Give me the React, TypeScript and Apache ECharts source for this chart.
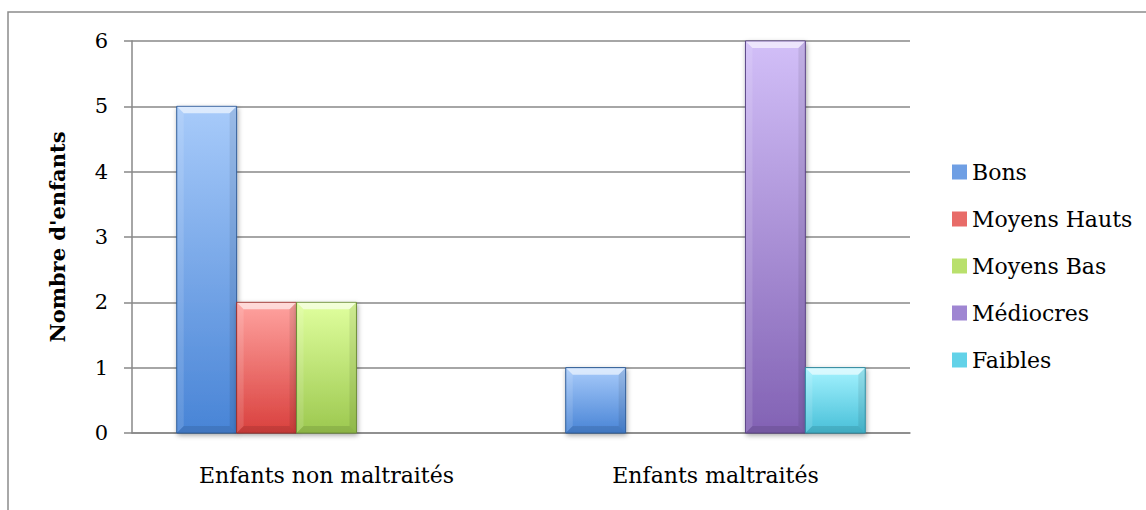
import React, { useEffect, useRef } from "react";
import * as echarts from "echarts";

const categories = ["Enfants non maltraités", "Enfants maltraités"];
const seriesNames = ["Bons", "Moyens Hauts", "Moyens Bas", "Médiocres", "Faibles"];
const bons = [5, 1];
const moyensHauts = [2, 0];
const moyensBas = [2, 0];
const mediocres = [0, 6];
const faibles = [0, 1];
const yTicks = [0, 1, 2, 3, 4, 5, 6];

const palettes = [
  { mid: "#6f9fe4", top: "#a8cbfa", bottom: "#4884d6", border: "#2f5d9a" },
  { mid: "#e86b68", top: "#ffa3a0", bottom: "#d9403d", border: "#9a2f2d" },
  { mid: "#b9e06c", top: "#e0ff9e", bottom: "#9cc84f", border: "#6e8f38" },
  { mid: "#9f86d2", top: "#d2bff8", bottom: "#8262b4", border: "#5a4385" },
  { mid: "#62d2e8", top: "#a5f3ff", bottom: "#47bfd8", border: "#2e8aa0" },
];

const FONT = "DejaVu Serif";
const N = seriesNames.length;
const CAT_GAP = 0.23;

export default function App() {
  const ref = useRef<HTMLDivElement>(null);
  useEffect(() => {
    const chart = echarts.init(ref.current!, null, { renderer: "svg" });
    const values = [bons, moyensHauts, moyensBas, mediocres, faibles];
    chart.setOption({
      animation: false,
      backgroundColor: "#ffffff",
      graphic: [
        {
          type: "rect",
          shape: { x: 8, y: 12, width: 1160, height: 520 },
          style: { fill: "none", stroke: "#8c8c8c", lineWidth: 1.5 },
          silent: true,
          z: -1,
        },
      ],
      grid: { left: 132, top: 41, width: 778, height: 392, containLabel: false },
      legend: {
        orient: "vertical",
        left: 947,
        top: 156,
        itemWidth: 15,
        itemHeight: 15,
        itemGap: 25,
        icon: "rect",
        textStyle: { fontFamily: FONT, fontSize: 22, color: "#000" },
        data: seriesNames,
      },
      xAxis: {
        type: "category",
        data: categories,
        axisLine: { show: true, lineStyle: { color: "#888", width: 1.5 } },
        axisTick: { show: false },
        axisLabel: { fontFamily: FONT, fontSize: 22, color: "#000", margin: 31 },
      },
      yAxis: {
        type: "value",
        min: 0,
        max: 6,
        interval: 1,
        name: "Nombre d'enfants",
        nameLocation: "middle",
        nameGap: 64,
        nameRotate: 90,
        nameTextStyle: { fontFamily: FONT, fontSize: 21, fontWeight: "bold", color: "#000" },
        axisLine: { show: true, lineStyle: { color: "#888", width: 1.5 } },
        axisTick: { show: true, inside: false, length: 8, lineStyle: { color: "#888", width: 1.5 } },
        splitLine: { show: true, lineStyle: { color: "#888", width: 1.5 } },
        axisLabel: {
          fontFamily: FONT,
          fontSize: 21,
          color: "#000",
          margin: 24,
          formatter: (v: number) => (yTicks.includes(v) ? String(v) : ""),
        },
      },
      series: seriesNames.map((name, i) => ({
        name,
        type: "custom",
        itemStyle: { color: palettes[i].mid },
        data: values[i].map((v, c) => [c, v]),
        encode: { x: 0, y: 1 },
        renderItem: (params: any, api: any) => {
          const cat = api.value(0);
          const val = api.value(1);
          if (!val) return { type: "group", children: [] };
          const band = api.size([1, 0])[0];
          const bw = (band * (1 - CAT_GAP)) / N;
          const center = api.coord([cat, 0]);
          const topPt = api.coord([cat, val]);
          const x0 = center[0] - (bw * N) / 2 + i * bw;
          const x1 = x0 + bw;
          const y0 = topPt[1];
          const y1 = center[1];
          const p = palettes[i];
          const b = 7;
          return {
            type: "group",
            children: [
              {
                type: "rect",
                shape: { x: x0, y: y0, width: bw, height: y1 - y0 },
                style: {
                  fill: new echarts.graphic.LinearGradient(0, 0, 0, 1, [
                    { offset: 0, color: p.top },
                    { offset: 1, color: p.bottom },
                  ]),
                  stroke: p.border,
                  lineWidth: 1,
                  shadowColor: "rgba(0,0,0,0.35)",
                  shadowBlur: 5,
                  shadowOffsetY: 2,
                  shadowOffsetX: 1,
                },
              },
              {
                type: "polygon",
                shape: { points: [[x0 + 0.5, y0 + 0.5], [x1 - 0.5, y0 + 0.5], [x1 - b, y0 + b], [x0 + b, y0 + b]] },
                style: { fill: "rgba(255,255,255,0.6)" },
              },
              {
                type: "polygon",
                shape: { points: [[x0 + 0.5, y0 + 0.5], [x0 + b, y0 + b], [x0 + b, y1 - b], [x0 + 0.5, y1 - 0.5]] },
                style: { fill: "rgba(255,255,255,0.12)" },
              },
              {
                type: "polygon",
                shape: { points: [[x1 - 0.5, y0 + 0.5], [x1 - b, y0 + b], [x1 - b, y1 - b], [x1 - 0.5, y1 - 0.5]] },
                style: { fill: "rgba(0,0,0,0.08)" },
              },
              {
                type: "polygon",
                shape: { points: [[x0 + 0.5, y1 - 0.5], [x0 + b, y1 - b], [x1 - b, y1 - b], [x1 - 0.5, y1 - 0.5]] },
                style: { fill: "rgba(0,0,0,0.1)" },
              },
            ],
          };
        },
      })),
    });
    return () => chart.dispose();
  }, []);
  return (
    <div
      ref={ref}
      style={{ position: "absolute", left: 0, top: 0, width: 1146, height: 510 }}
    />
  );
}
